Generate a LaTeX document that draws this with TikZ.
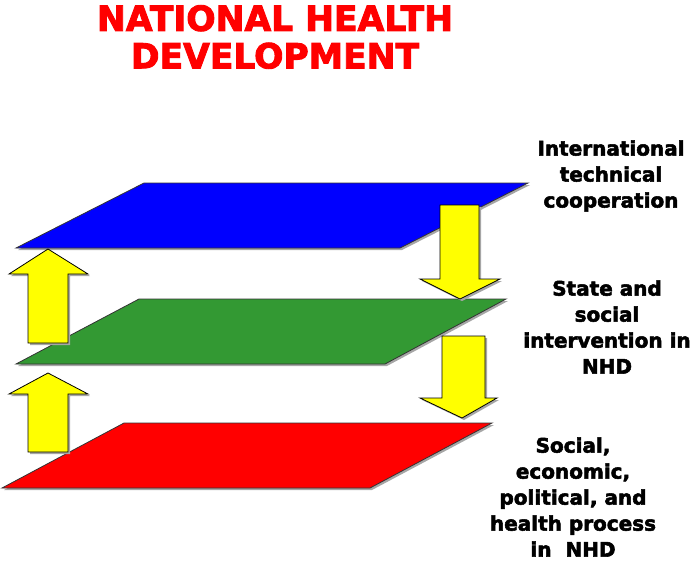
\documentclass[tikz,border=0pt]{standalone}
\usepackage{fontspec}
\setmainfont{DejaVu Sans}[BoldFeatures={FakeBold=2.6}]
\definecolor{planeblue}{HTML}{0000FF}
\definecolor{planegreen}{HTML}{339933}
\definecolor{planered}{HTML}{FF0000}
\definecolor{arrowyellow}{HTML}{FFFF00}
\begin{document}
\begin{tikzpicture}[x=1pt,y=-1pt,
  plane/.style={draw=black!80,line width=0.8pt,line join=miter},
  blockarrow/.style={draw=black,line width=0.8pt,fill=arrowyellow,line join=miter},
  shadow/.style={fill=black!35,draw=none},
  label/.style={font=\bfseries\fontsize{20}{26}\selectfont,align=center,text=black,inner sep=0pt},
  titletext/.style={font=\bfseries\fontsize{34.5}{37.5}\selectfont,align=center,text=planered,inner sep=0pt}]
\useasboundingbox (0,0) rectangle (693,560);

% shadows of planes
\fill[shadow] (146,185) -- (530,185) -- (402,250) -- (18,250) -- cycle;
\fill[shadow] (141,301) -- (508,301) -- (387,366) -- (18,366) -- cycle;
\fill[shadow] (126,425) -- (494,425) -- (372,490) -- (4,490) -- cycle;

% planes
\draw[plane,fill=planeblue] (144,183) -- (528,183) -- (400,248) -- (16,248) -- cycle;
\draw[plane,fill=planegreen] (139,299) -- (506,299) -- (385,364) -- (16,364) -- cycle;
\draw[plane,fill=planered] (124,423) -- (492,423) -- (370,488) -- (2,488) -- cycle;

% up arrows (left)
\fill[shadow] (50,251) -- (90,276) -- (70,276) -- (70,345) -- (30,345) -- (30,276) -- (11,276) -- cycle;
\draw[blockarrow] (48,249) -- (88,274) -- (68,274) -- (68,343) -- (28,343) -- (28,274) -- (9,274) -- cycle;
\fill[shadow] (50,375) -- (90,396) -- (70,396) -- (70,454) -- (30,454) -- (30,396) -- (11,396) -- cycle;
\draw[blockarrow] (48,373) -- (88,394) -- (68,394) -- (68,452) -- (28,452) -- (28,394) -- (9,394) -- cycle;

% down arrows (right)
\fill[shadow] (442,207) -- (481,207) -- (481,281) -- (502,281) -- (462,301) -- (422,281) -- (442,281) -- cycle;
\draw[blockarrow] (440,205) -- (479,205) -- (479,279) -- (500,279) -- (460,299) -- (420,279) -- (440,279) -- cycle;
\fill[shadow] (444,338) -- (487,338) -- (487,400) -- (499,400) -- (464,420) -- (422,400) -- (444,400) -- cycle;
\draw[blockarrow] (442,336) -- (485,336) -- (485,398) -- (497,398) -- (462,418) -- (420,398) -- (442,398) -- cycle;

% title
\node[titletext] (title) at (275,37) {NATIONAL HEALTH\\DEVELOPMENT};

% labels
\node[label] (itc) at (611,176) {International\\technical\\cooperation};
\node[label] (ssi) at (607,327) {State and\\social\\intervention in\\NHD};
\node[label] (sep) at (573,497) {Social,\\economic,\\political, and\\health process\\in\ \ NHD};
\end{tikzpicture}
\end{document}
